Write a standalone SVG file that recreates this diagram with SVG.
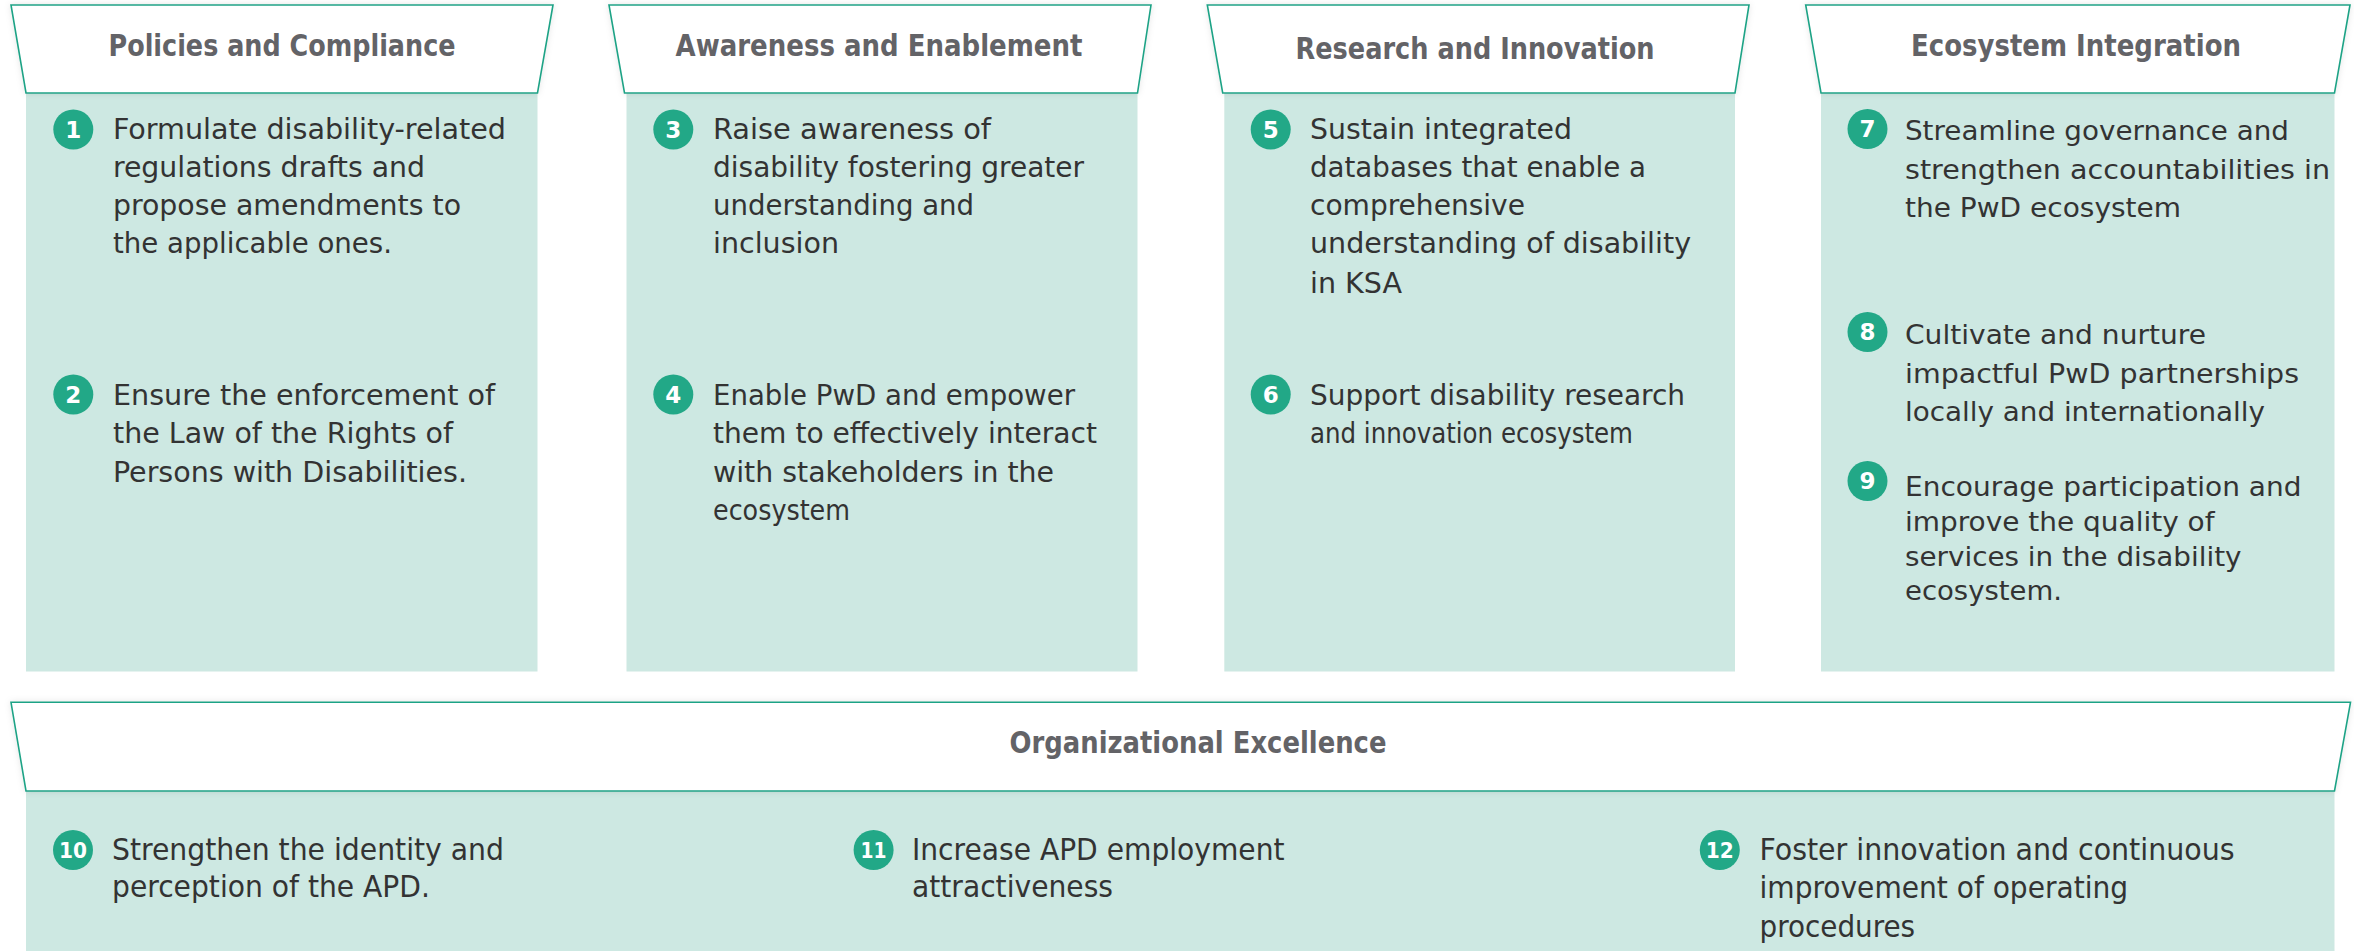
<svg xmlns="http://www.w3.org/2000/svg" width="2354" height="951" viewBox="0 0 2354 951">
<defs>
<style>
.bg{fill:#ffffff}
.panel{fill:#cde8e2}
.hdr{fill:#ffffff;stroke:#1fa386;stroke-width:1.6}
.dot{fill:#22a887}
.num{fill:#ffffff;font-family:"DejaVu Sans","Liberation Sans",sans-serif;font-weight:bold;font-size:23px;text-anchor:middle}
.num2{fill:#ffffff;font-family:"DejaVu Sans Condensed","DejaVu Sans",sans-serif;font-stretch:condensed;font-weight:bold;font-size:22px;text-anchor:middle}
.ttl{fill:#636367;font-family:"DejaVu Sans Condensed","DejaVu Sans",sans-serif;font-stretch:condensed;font-weight:bold;font-size:30px;text-anchor:middle}
.txt{fill:#333333;font-family:"DejaVu Sans Condensed","DejaVu Sans",sans-serif;font-stretch:condensed;font-size:28px}
.txtw{fill:#333333;font-family:"DejaVu Sans","Liberation Sans",sans-serif;font-size:26px}
.txtc{fill:#333333;font-family:"DejaVu Sans Condensed","DejaVu Sans",sans-serif;font-stretch:condensed;font-size:29.5px}
</style>
<filter id="sh" x="-5%" y="-20%" width="110%" height="140%">
<feDropShadow dx="0" dy="0" stdDeviation="3" flood-color="#000000" flood-opacity="0.10"/>
</filter>
</defs>
<rect class="bg" x="0" y="0" width="2354" height="951"/>

<g id="col-policies">
<rect class="panel" x="26" y="93" width="511.5" height="578.5"/>
<polygon class="hdr" filter="url(#sh)" points="11,5 553,5 537.5,93 26,93"/>
<text class="ttl" x="282" y="56" textLength="347" lengthAdjust="spacingAndGlyphs">Policies and Compliance</text>
<circle class="dot" cx="73.3" cy="129.5" r="20"/>
<text class="num" x="73.3" y="137.8">1</text>
<text class="txt" x="113" y="139" textLength="393" lengthAdjust="spacingAndGlyphs">Formulate disability-related</text>
<text class="txt" x="113" y="177" textLength="312" lengthAdjust="spacingAndGlyphs">regulations drafts and</text>
<text class="txt" x="113" y="215" textLength="348" lengthAdjust="spacingAndGlyphs">propose amendments to</text>
<text class="txt" x="113" y="253" textLength="279" lengthAdjust="spacingAndGlyphs">the applicable ones.</text>
<circle class="dot" cx="73.3" cy="394.5" r="20"/>
<text class="num" x="73.3" y="402.8">2</text>
<text class="txt" x="113" y="405" textLength="382" lengthAdjust="spacingAndGlyphs">Ensure the enforcement of</text>
<text class="txt" x="113" y="443" textLength="340" lengthAdjust="spacingAndGlyphs">the Law of the Rights of</text>
<text class="txt" x="113" y="481.7" textLength="354" lengthAdjust="spacingAndGlyphs">Persons with Disabilities.</text>
</g>

<g id="col-awareness">
<rect class="panel" x="626.5" y="93" width="511" height="578.5"/>
<polygon class="hdr" filter="url(#sh)" points="609,5 1151,5 1137.5,93 624.5,93"/>
<text class="ttl" x="879" y="56" textLength="407" lengthAdjust="spacingAndGlyphs">Awareness and Enablement</text>
<circle class="dot" cx="673.3" cy="129.5" r="20"/>
<text class="num" x="673.3" y="137.8">3</text>
<text class="txt" x="713" y="139" textLength="278" lengthAdjust="spacingAndGlyphs">Raise awareness of</text>
<text class="txt" x="713" y="177" textLength="371" lengthAdjust="spacingAndGlyphs">disability fostering greater</text>
<text class="txt" x="713" y="215" textLength="261" lengthAdjust="spacingAndGlyphs">understanding and</text>
<text class="txt" x="713" y="253" textLength="126" lengthAdjust="spacingAndGlyphs">inclusion</text>
<circle class="dot" cx="673.3" cy="394.5" r="20"/>
<text class="num" x="673.3" y="402.8">4</text>
<text class="txt" x="713" y="405" textLength="362" lengthAdjust="spacingAndGlyphs">Enable PwD and empower</text>
<text class="txt" x="713" y="443" textLength="384" lengthAdjust="spacingAndGlyphs">them to effectively interact</text>
<text class="txt" x="713" y="481.7" textLength="341" lengthAdjust="spacingAndGlyphs">with stakeholders in the</text>
<text class="txt" x="713" y="520" textLength="137" lengthAdjust="spacingAndGlyphs">ecosystem</text>
</g>

<g id="col-research">
<rect class="panel" x="1224.3" y="93" width="510.7" height="578.5"/>
<polygon class="hdr" filter="url(#sh)" points="1207.3,5 1749,5 1735,93 1222.7,93"/>
<text class="ttl" x="1475" y="59" textLength="359" lengthAdjust="spacingAndGlyphs">Research and Innovation</text>
<circle class="dot" cx="1270.7" cy="129.5" r="20"/>
<text class="num" x="1270.7" y="137.8">5</text>
<text class="txt" x="1310" y="139" textLength="262" lengthAdjust="spacingAndGlyphs">Sustain integrated</text>
<text class="txt" x="1310" y="177" textLength="336" lengthAdjust="spacingAndGlyphs">databases that enable a</text>
<text class="txt" x="1310" y="215" textLength="215" lengthAdjust="spacingAndGlyphs">comprehensive</text>
<text class="txt" x="1310" y="253" textLength="381" lengthAdjust="spacingAndGlyphs">understanding of disability</text>
<text class="txt" x="1310" y="292.5" textLength="92" lengthAdjust="spacingAndGlyphs">in KSA</text>
<circle class="dot" cx="1270.7" cy="394.5" r="20"/>
<text class="num" x="1270.7" y="402.8">6</text>
<text class="txt" x="1310" y="405" textLength="375" lengthAdjust="spacingAndGlyphs">Support disability research</text>
<text class="txt" x="1310" y="443" textLength="323" lengthAdjust="spacingAndGlyphs">and innovation ecosystem</text>
</g>

<g id="col-ecosystem">
<rect class="panel" x="1821" y="93" width="513.5" height="578.5"/>
<polygon class="hdr" filter="url(#sh)" points="1805.7,5 2350,5 2334.5,93 1821,93"/>
<text class="ttl" x="2076" y="56" textLength="330" lengthAdjust="spacingAndGlyphs">Ecosystem Integration</text>
<circle class="dot" cx="1867.5" cy="129" r="20"/>
<text class="num" x="1867.5" y="137.3">7</text>
<text class="txtw" x="1905" y="140" textLength="384" lengthAdjust="spacingAndGlyphs">Streamline governance and</text>
<text class="txtw" x="1905" y="178.7" textLength="425" lengthAdjust="spacingAndGlyphs">strengthen accountabilities in</text>
<text class="txtw" x="1905" y="217" textLength="276" lengthAdjust="spacingAndGlyphs">the PwD ecosystem</text>
<circle class="dot" cx="1867.5" cy="332" r="20"/>
<text class="num" x="1867.5" y="340.3">8</text>
<text class="txtw" x="1905" y="344" textLength="301" lengthAdjust="spacingAndGlyphs">Cultivate and nurture</text>
<text class="txtw" x="1905" y="382.5" textLength="394" lengthAdjust="spacingAndGlyphs">impactful PwD partnerships</text>
<text class="txtw" x="1905" y="421" textLength="360" lengthAdjust="spacingAndGlyphs">locally and internationally</text>
<circle class="dot" cx="1867.5" cy="481" r="20"/>
<text class="num" x="1867.5" y="489.3">9</text>
<text class="txtw" x="1905" y="495.6" textLength="396.5" lengthAdjust="spacingAndGlyphs">Encourage participation and</text>
<text class="txtw" x="1905" y="530.5" textLength="309.5" lengthAdjust="spacingAndGlyphs">improve the quality of</text>
<text class="txtw" x="1905" y="566" textLength="336.5" lengthAdjust="spacingAndGlyphs">services in the disability</text>
<text class="txtw" x="1905" y="600" textLength="157" lengthAdjust="spacingAndGlyphs">ecosystem.</text>
</g>

<g id="row-organizational">
<rect class="panel" x="26" y="791" width="2308.5" height="160"/>
<polygon class="hdr" filter="url(#sh)" points="11,702.3 2350.5,702.3 2334.5,791 26,791"/>
<text class="ttl" x="1198" y="753" font-size="31" textLength="377" lengthAdjust="spacingAndGlyphs">Organizational Excellence</text>
<circle class="dot" cx="73" cy="850" r="20"/>
<text class="num2" x="73" y="857.8" textLength="28" lengthAdjust="spacingAndGlyphs">10</text>
<text class="txtc" x="112" y="860" textLength="392" lengthAdjust="spacingAndGlyphs">Strengthen the identity and</text>
<text class="txtc" x="112" y="897.3" textLength="318" lengthAdjust="spacingAndGlyphs">perception of the APD.</text>
<circle class="dot" cx="873.6" cy="850" r="20"/>
<text class="num2" x="873.6" y="857.8" textLength="26" lengthAdjust="spacingAndGlyphs">11</text>
<text class="txtc" x="912" y="860" textLength="372.5" lengthAdjust="spacingAndGlyphs">Increase APD employment</text>
<text class="txtc" x="912" y="897.3" textLength="201" lengthAdjust="spacingAndGlyphs">attractiveness</text>
<circle class="dot" cx="1719.8" cy="850" r="20"/>
<text class="num2" x="1719.8" y="857.8" textLength="28" lengthAdjust="spacingAndGlyphs">12</text>
<text class="txtc" x="1759.5" y="860" textLength="475" lengthAdjust="spacingAndGlyphs">Foster innovation and continuous</text>
<text class="txtc" x="1759.5" y="898" textLength="368.6" lengthAdjust="spacingAndGlyphs">improvement of operating</text>
<text class="txtc" x="1759.5" y="936.7" textLength="155.6" lengthAdjust="spacingAndGlyphs">procedures</text>
</g>

<g id="connectors"></g>
</svg>
